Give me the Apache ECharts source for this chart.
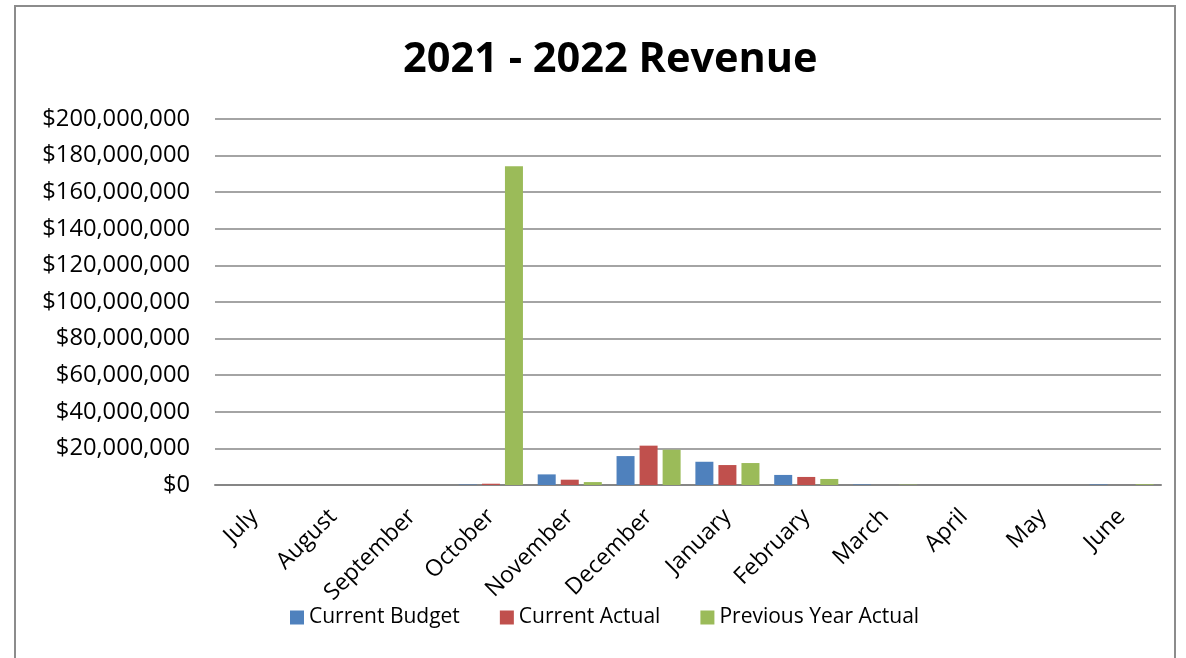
<!DOCTYPE html>
<html>
<head>
<meta charset="utf-8">
<script src="https://cdn.jsdelivr.net/npm/echarts@6/dist/echarts.min.js"></script>
<style>
html,body{margin:0;padding:0;background:#fff;}
#frame{position:absolute;left:14px;top:5px;width:1162px;height:660px;border:2px solid #8c8c8c;box-sizing:border-box;}
#chart{position:absolute;left:0;top:0;width:1186px;height:658px;}
</style>
</head>
<body>
<div id="frame"></div>
<div id="chart"></div>
<script>
const categories = ["July","August","September","October","November","December","January","February","March","April","May","June"];
const currentBudget = [0, 0, 0, 0.25e6, 5.8e6, 15.8e6, 12.7e6, 5.5e6, 0.3e6, 0, 0, 0.3e6];
const currentActual = [0, 0, 0, 0.7e6, 2.9e6, 21.5e6, 10.9e6, 4.4e6, 0, 0, 0, 0];
const previousYearActual = [0, 0, 0, 174.2e6, 1.6e6, 19.3e6, 12.0e6, 3.3e6, 0.2e6, 0, 0, 0.4e6];
const seriesNames = ["Current Budget","Current Actual","Previous Year Actual"];
const colors = ["#4F81BD","#C0504D","#9BBB59"];

const font = "'Open Sans', sans-serif";
const chart = echarts.init(document.getElementById('chart'));
function fmt(v){ return '$' + v.toLocaleString('en-US'); }
chart.setOption({
  animation:false,
  title:{text:"2021 - 2022 Revenue",left:398,top:34,
    textStyle:{fontFamily:font,fontSize:41.5,fontWeight:'bold',color:'#000'}},
  legend:{top:602,left:285,itemWidth:14,itemHeight:14,itemGap:40,icon:'rect',
    textStyle:{fontFamily:font,fontSize:21,color:'#000'},data:seriesNames},
  grid:{left:215,right:25,top:119,bottom:173},
  xAxis:{type:'category',data:categories,
    axisLine:{lineStyle:{color:'#868686',width:2}},
    axisTick:{show:false},
    axisLabel:{rotate:45,fontFamily:font,fontSize:23,color:'#000',margin:28,interval:0}},
  yAxis:{type:'value',min:0,max:200000000,interval:20000000,
    axisLine:{show:false},axisTick:{show:false},
    splitLine:{lineStyle:{color:'#868686',width:1.5}},
    axisLabel:{formatter:fmt,fontFamily:font,fontSize:23.7,color:'#000',margin:25}},
  series:[
    {name:seriesNames[0],type:'bar',data:currentBudget,itemStyle:{color:colors[0]},barWidth:18,barGap:'28%'},
    {name:seriesNames[1],type:'bar',data:currentActual,itemStyle:{color:colors[1]},barWidth:18,barGap:'28%'},
    {name:seriesNames[2],type:'bar',data:previousYearActual,itemStyle:{color:colors[2]},barWidth:18,barGap:'28%'}
  ]
});
</script>
</body>
</html>
